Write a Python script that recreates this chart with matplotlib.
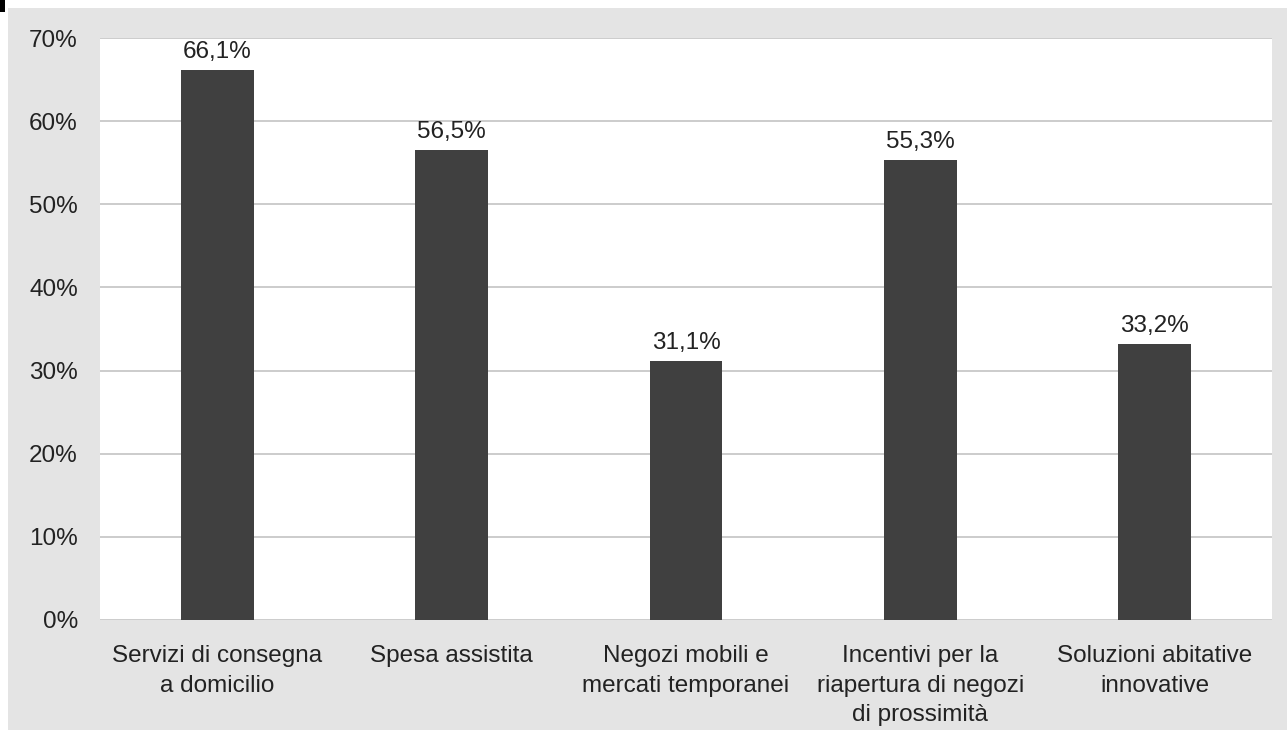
import matplotlib.pyplot as plt
from matplotlib.patches import Rectangle
from matplotlib.ticker import MultipleLocator, FuncFormatter

categories = ['Servizi di consegna\na domicilio', 'Spesa assistita',
              'Negozi mobili e\nmercati temporanei',
              'Incentivi per la\nriapertura di negozi\ndi prossimità',
              'Soluzioni abitative\ninnovative']
values = [66.1, 56.5, 31.1, 55.3, 33.2]
value_labels = ['66,1%', '56,5%', '31,1%', '55,3%', '33,2%']

plt.rcParams['font.family'] = ['Liberation Sans', 'DejaVu Sans']

fig = plt.figure(figsize=(12.87, 7.38), dpi=100)
fig.patch.set_facecolor('white')

# grey scanned background behind the chart
fig.patches.append(Rectangle((8 / 1287, 8 / 738), 1279 / 1287, 722 / 738,
                             transform=fig.transFigure, facecolor='#e4e4e4',
                             edgecolor='none', zorder=-2))
# small black mark top-left
fig.patches.append(Rectangle((0, 726 / 738), 5 / 1287, 12 / 738,
                             transform=fig.transFigure, facecolor='black',
                             edgecolor='none', zorder=-1))

ax = fig.add_axes([100 / 1287, 118 / 738, 1172 / 1287, 582 / 738])
ax.set_zorder(2)
ax.set_facecolor('white')

x = range(len(categories))
ax.bar(x, values, width=0.31, color='#404040', zorder=3)

for i, v in enumerate(values):
    ax.annotate(value_labels[i], (i, v), xytext=(0, 5), textcoords='offset points',
                ha='center', va='bottom', fontsize=17.5, color='#222222')

ax.set_ylim(0, 70)
ax.set_xlim(-0.5, len(categories) - 0.5)
ax.yaxis.set_major_locator(MultipleLocator(10))
ax.yaxis.set_major_formatter(FuncFormatter(lambda v, p: '%d%%' % v))
ax.grid(axis='y', color='#c4c4c4', linewidth=1.2, zorder=0)
ax.set_xticks(list(x))
ax.set_xticklabels(categories, fontsize=17.5, color='#222222', linespacing=1.45)
ax.tick_params(axis='y', labelsize=17.5, labelcolor='#222222', length=0, pad=16)
ax.tick_params(axis='x', length=0, pad=18)
for s in ax.spines.values():
    s.set_visible(False)

fig.savefig('out.png', dpi=100)
